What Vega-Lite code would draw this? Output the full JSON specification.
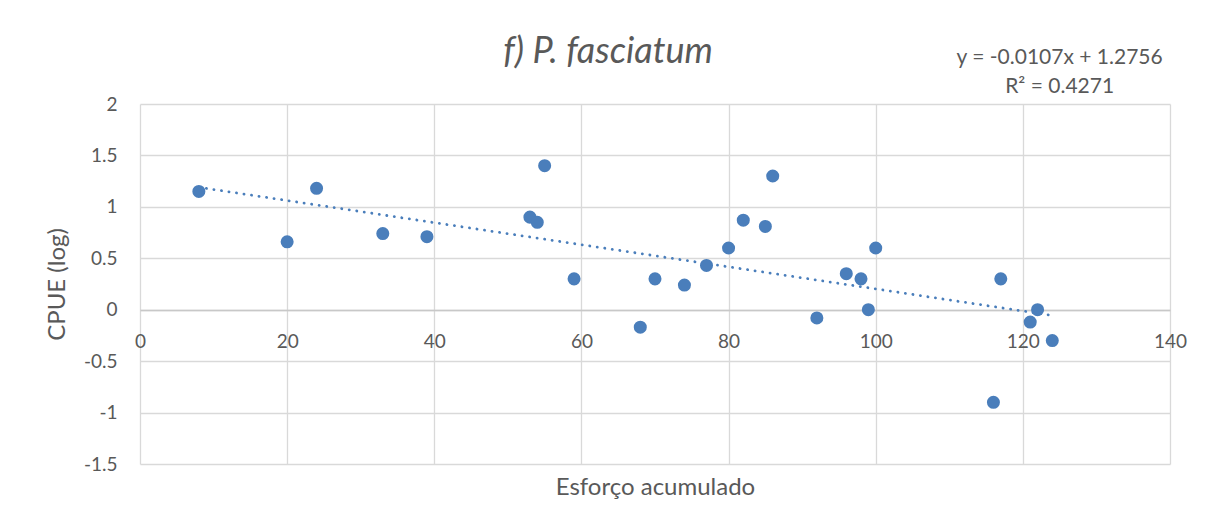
{
  "$schema": "https://vega.github.io/schema/vega-lite/v6.json",
  "width": 1030,
  "height": 360,
  "autosize": {"type": "none"},
  "padding": {"left": 140, "top": 104, "right": 46, "bottom": 68},
  "background": "white",
  "title": {
    "text": "f) P. fasciatum",
    "font": "Lato",
    "fontSize": 36,
    "fontStyle": "italic",
    "fontWeight": "normal",
    "color": "#595959",
    "anchor": "middle",
    "frame": "group",
    "baseline": "alphabetic",
    "offset": 0,
    "dy": 52,
    "dx": -47
  },
  "config": {
    "view": {"stroke": null},
    "font": "Lato"
  },
  "data": {
    "values": [
      {"esforco": 8, "cpue": 1.15},
      {"esforco": 20, "cpue": 0.66},
      {"esforco": 24, "cpue": 1.18},
      {"esforco": 33, "cpue": 0.74},
      {"esforco": 39, "cpue": 0.71},
      {"esforco": 53, "cpue": 0.90},
      {"esforco": 54, "cpue": 0.85},
      {"esforco": 55, "cpue": 1.40},
      {"esforco": 59, "cpue": 0.30},
      {"esforco": 68, "cpue": -0.17},
      {"esforco": 70, "cpue": 0.30},
      {"esforco": 74, "cpue": 0.24},
      {"esforco": 77, "cpue": 0.43},
      {"esforco": 80, "cpue": 0.60},
      {"esforco": 82, "cpue": 0.87},
      {"esforco": 85, "cpue": 0.81},
      {"esforco": 86, "cpue": 1.30},
      {"esforco": 92, "cpue": -0.08},
      {"esforco": 96, "cpue": 0.35},
      {"esforco": 98, "cpue": 0.30},
      {"esforco": 99, "cpue": 0.0},
      {"esforco": 100, "cpue": 0.60},
      {"esforco": 116, "cpue": -0.90},
      {"esforco": 117, "cpue": 0.30},
      {"esforco": 121, "cpue": -0.12},
      {"esforco": 122, "cpue": 0.0},
      {"esforco": 124, "cpue": -0.30}
    ]
  },
  "encoding": {
    "x": {
      "field": "esforco",
      "type": "quantitative",
      "scale": {"domain": [0, 140], "nice": false, "zero": false},
      "axis": {
        "title": "Esforço acumulado",
        "values": [0, 20, 40, 60, 80, 100, 120, 140],
        "offset": -154,
        "grid": true,
        "gridColor": "#d9d9d9",
        "gridWidth": 1.3,
        "domain": true,
        "domainColor": "#c8c8c8",
        "domainWidth": 1.3,
        "ticks": false,
        "labelFlush": false,
        "labelOverlap": false,
        "labelPadding": 22,
        "labelFontSize": 19,
        "labelColor": "#595959",
        "labelFont": "Lato",
        "titleFont": "Lato",
        "titleFontSize": 24,
        "titleFontWeight": "normal",
        "titleColor": "#595959",
        "titleBaseline": "middle",
        "titleY": 177
      }
    },
    "y": {
      "field": "cpue",
      "type": "quantitative",
      "scale": {"domain": [-1.5, 2], "nice": false, "zero": false},
      "axis": {
        "title": "CPUE (log)",
        "values": [-1.5, -1, -0.5, 0, 0.5, 1, 1.5, 2],
        "labelExpr": "datum.value + ''",
        "grid": true,
        "gridColor": "#d9d9d9",
        "gridWidth": 1.3,
        "domain": false,
        "ticks": false,
        "labelFlush": false,
        "labelOverlap": false,
        "labelPadding": 23,
        "labelFontSize": 19,
        "labelColor": "#595959",
        "labelFont": "Lato",
        "titleFont": "Lato",
        "titleFontSize": 24,
        "titleFontWeight": "normal",
        "titleColor": "#595959",
        "titlePadding": 14
      }
    }
  },
  "layer": [
    {
      "transform": [{"regression": "cpue", "on": "esforco", "method": "linear"}],
      "mark": {"type": "line", "color": "#4a7ebb", "strokeWidth": 2.8, "strokeDash": [0.1, 7.5], "strokeCap": "round"}
    },
    {
      "mark": {"type": "circle", "size": 170, "color": "#4a7ebb", "opacity": 1}
    },
    {
      "transform": [{"filter": "datum.esforco == 8"}],
      "mark": {"type": "text", "font": "Lato", "fontSize": 21, "color": "#595959", "align": "center", "baseline": "middle", "clip": false},
      "encoding": {
        "x": {"datum": 125},
        "y": {"datum": 2.45},
        "text": {"value": "y = -0.0107x + 1.2756"}
      }
    },
    {
      "transform": [{"filter": "datum.esforco == 8"}],
      "mark": {"type": "text", "font": "Lato", "fontSize": 21, "color": "#595959", "align": "center", "baseline": "middle", "clip": false},
      "encoding": {
        "x": {"datum": 125},
        "y": {"datum": 2.17},
        "text": {"value": "R² = 0.4271"}
      }
    }
  ]
}
